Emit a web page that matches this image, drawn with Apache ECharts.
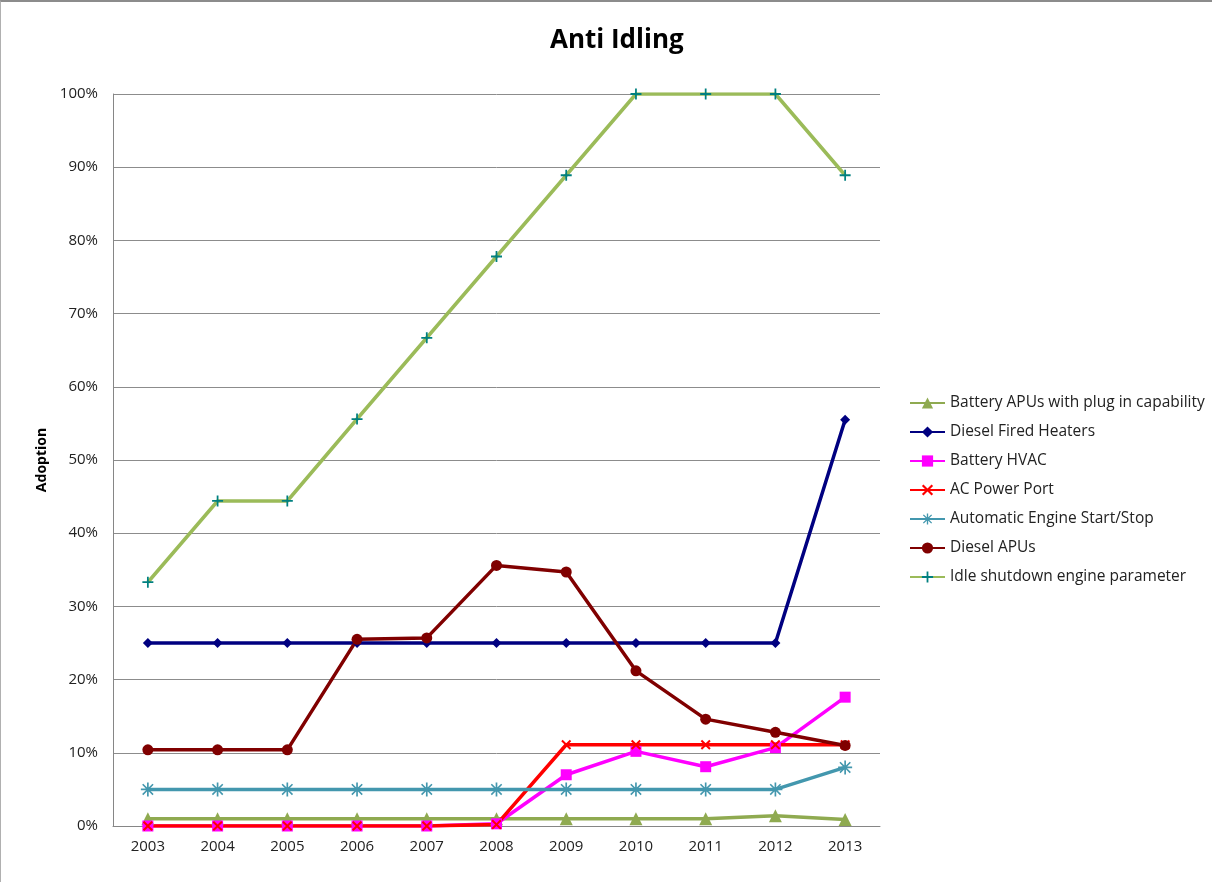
<!DOCTYPE html>
<html>
<head>
<meta charset="utf-8">
<script src="https://cdn.jsdelivr.net/npm/echarts@6/dist/echarts.min.js"></script>
<style>
  html, body { margin: 0; padding: 0; background: #fff; }
  #main { width: 1212px; height: 882px; box-sizing: border-box; border-top: 2px solid #8c8c8c; border-left: 1px solid #b0b0b0; }
</style>
</head>
<body>
<div id="main"></div>
<script>
// 年份
var years = ['2003', '2004', '2005', '2006', '2007', '2008', '2009', '2010', '2011', '2012', '2013'];
// 各系列数据 (%)
var batteryApus = [1, 1, 1, 1, 1, 1, 1, 1, 1, 1.4, 0.9];
var dieselHeaters = [25, 25, 25, 25, 25, 25, 25, 25, 25, 25, 55.5];
var batteryHvac = [0, 0, 0, 0, 0, 0.3, 7, 10.2, 8.1, 10.7, 17.6];
var acPowerPort = [0, 0, 0, 0, 0, 0.2, 11.1, 11.1, 11.1, 11.1, 11.1];
var autoStartStop = [5, 5, 5, 5, 5, 5, 5, 5, 5, 5, 8];
var dieselApus = [10.4, 10.4, 10.4, 25.5, 25.7, 35.6, 34.7, 21.2, 14.6, 12.8, 11];
var idleShutdown = [33.3, 44.4, 44.4, 55.6, 66.7, 77.8, 88.9, 100, 100, 100, 88.9];
var yTicks = [0, 10, 20, 30, 40, 50, 60, 70, 80, 90, 100];

// 标记形状
var xPath = 'path://M0,1.4L1.4,0L5,3.6L8.6,0L10,1.4L6.4,5L10,8.6L8.6,10L5,6.4L1.4,10L0,8.6L3.6,5Z';
var plusPath = 'path://M4.2,0H5.8V4.2H10V5.8H5.8V10H4.2V5.8H0V4.2H4.2Z';
var starPath = 'path://M4.4,0H5.6V4.4H10V5.6H5.6V10H4.4V5.6H0V4.4H4.4Z' +
  'M0.9,1.7L1.7,0.9L5,4.2L8.3,0.9L9.1,1.7L5.8,5L9.1,8.3L8.3,9.1L5,5.8L1.7,9.1L0.9,8.3L4.2,5Z';

function makeSeries (name, data, lineColor, markColor, symbol, size) {
    return {
        name: name,
        type: 'line',
        data: data,
        symbol: symbol,
        symbolSize: size,
        showAllSymbol: true,
        lineStyle: { color: lineColor, width: 3.5 },
        itemStyle: { color: markColor, opacity: 1 },
        emphasis: { disabled: true },
        animation: false
    }
}

var chart = echarts.init(document.getElementById('main'));
chart.setOption({
    backgroundColor: '#fff',
    title: {
        text: 'Anti Idling',
        left: 544,
        top: 21,
        textStyle: { fontFamily: 'Open Sans', fontSize: 26, fontWeight: 'bold', color: '#000' }
    },
    legend: {
        orient: 'vertical',
        left: 903,
        top: 388,
        itemWidth: 35,
        itemHeight: 14,
        itemGap: 13,
        textStyle: { fontFamily: 'Open Sans', fontSize: 15.5, color: '#222' },
        data: ['Battery APUs with plug in capability', 'Diesel Fired Heaters', 'Battery HVAC',
            'AC Power Port', 'Automatic Engine Start/Stop', 'Diesel APUs', 'Idle shutdown engine parameter']
    },
    grid: { left: 112, right: 332, top: 92, bottom: 56 },
    xAxis: {
        type: 'category',
        data: years,
        boundaryGap: true,
        axisLine: { lineStyle: { color: '#868686', width: 1 } },
        axisTick: { show: false },
        axisLabel: { fontFamily: 'Open Sans', fontSize: 15, color: '#222', margin: 13 }
    },
    yAxis: {
        type: 'value',
        min: yTicks[0],
        max: yTicks[yTicks.length - 1],
        interval: 10,
        name: 'Adoption',
        nameLocation: 'middle',
        nameGap: 63,
        nameTextStyle: { fontFamily: 'Open Sans', fontSize: 14, fontWeight: 'bold', color: '#000' },
        axisLine: { show: true, lineStyle: { color: '#868686', width: 1 } },
        axisTick: { show: false },
        splitLine: { lineStyle: { color: '#8c8c8c', width: 1 } },
        axisLabel: { fontFamily: 'Open Sans', fontSize: 15, color: '#222', margin: 15, formatter: '{value}%' }
    },
    series: [
        makeSeries('Battery APUs with plug in capability', batteryApus, '#8FAA50', '#8FAA50', 'triangle', 13),
        makeSeries('Diesel Fired Heaters', dieselHeaters, '#000080', '#000080', 'diamond', 10),
        makeSeries('Battery HVAC', batteryHvac, '#FF00FF', '#FF00FF', 'rect', 11),
        makeSeries('AC Power Port', acPowerPort, '#FF0000', '#FF0000', xPath, 10),
        makeSeries('Automatic Engine Start/Stop', autoStartStop, '#4397AE', '#4397AE', starPath, 14),
        makeSeries('Diesel APUs', dieselApus, '#800000', '#800000', 'circle', 11),
        makeSeries('Idle shutdown engine parameter', idleShutdown, '#9BBB59', '#008080', plusPath, 11)
    ]
});
</script>
</body>
</html>
